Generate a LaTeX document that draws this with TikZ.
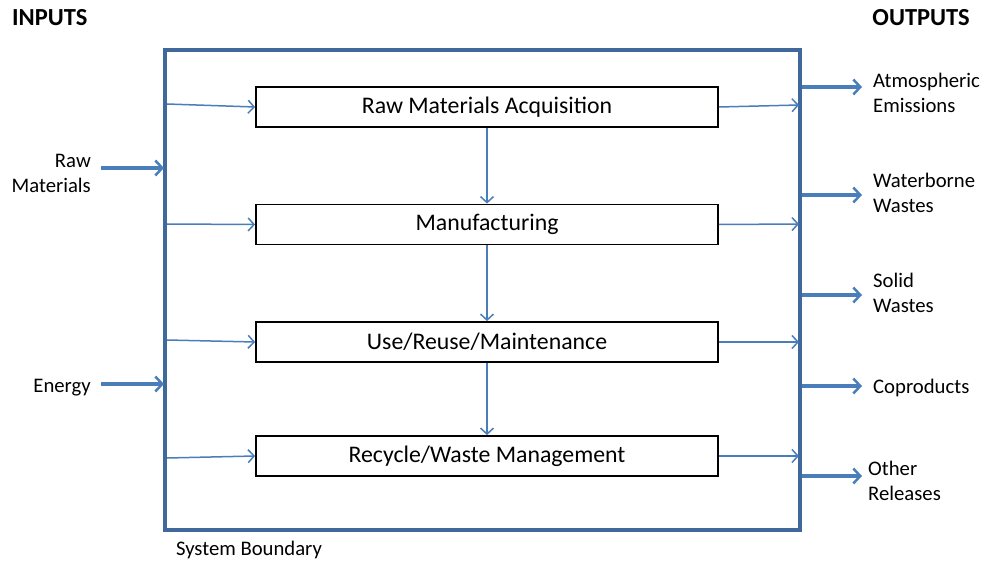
\documentclass[tikz,border=0pt]{standalone}
\usepackage{fontspec}
\setmainfont{Carlito}
\usetikzlibrary{arrows.meta}
\definecolor{bnd}{HTML}{41689A}
\definecolor{arr}{HTML}{4A7EBB}
\tikzset{
  stage/.style={draw=black, line width=1.8pt, minimum width=462pt, minimum height=40pt, inner sep=0pt, font=\fontsize{23.8}{26}\selectfont},
  thin arrow/.style={draw=arr, line width=1.5pt, -{Straight Barb[length=6pt,width=13pt,line width=1.5pt]}},
  thick arrow/.style={draw=arr, line width=3.5pt, -{Straight Barb[length=7pt,width=15pt,line width=2.5pt]}},
  lbl/.style={font=\fontsize{20.7}{25}\selectfont, align=left, inner sep=0pt},
  head/.style={font=\bfseries\fontsize{24.5}{26}\selectfont, inner sep=0pt}
}
\begin{document}
\begin{tikzpicture}[x=1pt,y=-1pt]
\useasboundingbox (0,0) rectangle (984,561);
% system boundary
\draw[bnd, line width=4pt] (165,50) rectangle (800,530);
\node[anchor=center, lbl] (sb) at (249,550) {System Boundary};
% headings
\node[head, anchor=west] (inputs) at (12,18) {INPUTS};
\node[head, anchor=east] (outputs) at (970,18) {OUTPUTS};
% stages
\node[stage] (s1) at (487,107) {Raw Materials Acquisition};
\node[stage] (s2) at (487,224.5) {Manufacturing};
\node[stage] (s3) at (487,342) {Use/Reuse/Maintenance};
\node[stage] (s4) at (487,456) {Recycle/Waste Management};
% vertical arrows
\draw[thin arrow] (s1.south) -- (s2.north);
\draw[thin arrow] (s2.south) -- (s3.north);
\draw[thin arrow] (s3.south) -- (s4.north);
% left inner coordinates
\coordinate (l1) at (167,104);
\coordinate (l2) at (167,224);
\coordinate (l3) at (167,340);
\coordinate (l4) at (167,458);
\draw[thin arrow] (l1) -- (s1.west);
\draw[thin arrow] (l2) -- (s2.west);
\draw[thin arrow] (l3) -- (s3.west);
\draw[thin arrow] (l4) -- (s4.west);
% right inner
\coordinate (r1) at (799,105);
\coordinate (r2) at (799,224);
\coordinate (r3) at (799,342);
\coordinate (r4) at (799,456);
\draw[thin arrow] (s1.east) -- (r1);
\draw[thin arrow] (s2.east) -- (r2);
\draw[thin arrow] (s3.east) -- (r3);
\draw[thin arrow] (s4.east) -- (r4);
% inputs
\node[lbl, align=right, anchor=east] (rawm) at (91,173) {Raw\\Materials};
\node[lbl, anchor=east] (energy) at (91,388) {Energy};
\coordinate (rb) at (164,168);
\coordinate (eb) at (164,384);
\draw[thick arrow] (101,168) -- (rb);
\draw[thick arrow] (101,384) -- (eb);
% outputs
\node[lbl, anchor=west] (o1) at (873,93) {Atmospheric\\Emissions};
\node[lbl, anchor=west] (o2) at (873,193) {Waterborne\\Wastes};
\node[lbl, anchor=west] (o3) at (873,293) {Solid\\Wastes};
\node[lbl, anchor=west] (o4) at (873,388) {Coproducts};
\node[lbl, anchor=west] (o5) at (868,481) {Other\\Releases};
\coordinate (b1) at (802,87);
\coordinate (b2) at (802,195);
\coordinate (b3) at (802,295);
\coordinate (b4) at (802,386);
\coordinate (b5) at (802,476);
\draw[thick arrow] (b1) -- (862,87);
\draw[thick arrow] (b2) -- (862,195);
\draw[thick arrow] (b3) -- (862,295);
\draw[thick arrow] (b4) -- (862,386);
\draw[thick arrow] (b5) -- (862,476);
\end{tikzpicture}
\end{document}
